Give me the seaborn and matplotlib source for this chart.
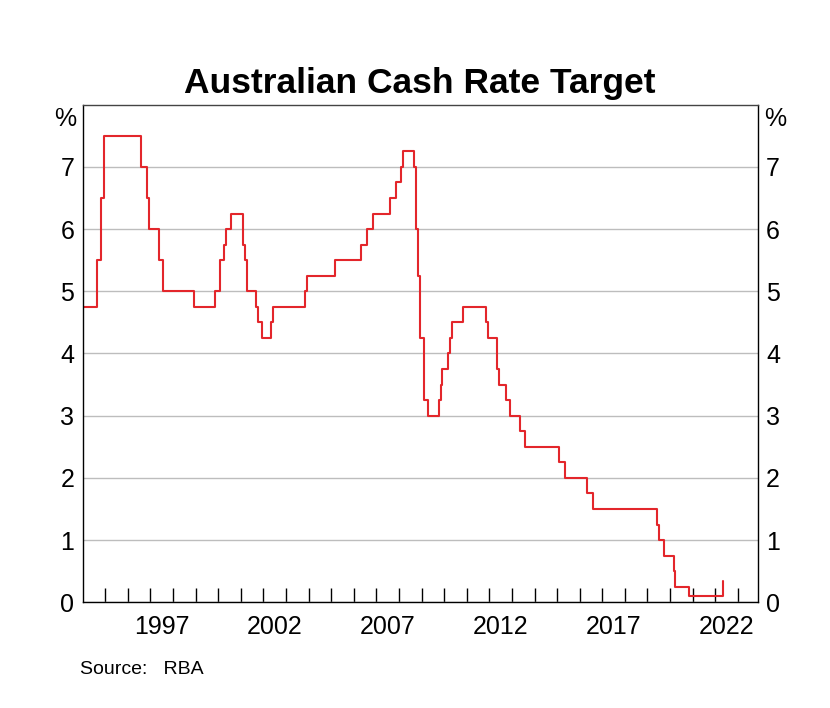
import pandas as pd
import numpy as np
import matplotlib
matplotlib.use("Agg")
import matplotlib.pyplot as plt
import seaborn as sns

# ==========================
# DATA (RBA cash rate target decisions)
# ==========================

change_dates = [
    "1994-01-01", "1994-08-17", "1994-10-24", "1994-12-14",
    "1996-07-31", "1996-11-06", "1996-12-11", "1997-05-23", "1997-07-30",
    "1998-12-02", "1999-11-03", "2000-02-02", "2000-04-05", "2000-05-03",
    "2000-08-02", "2001-02-07", "2001-03-07", "2001-04-04", "2001-09-05",
    "2001-10-03", "2001-12-05", "2002-05-08", "2002-06-05", "2003-11-05",
    "2003-12-03", "2005-03-02", "2006-05-03", "2006-08-02", "2006-11-08",
    "2007-08-08", "2007-11-07", "2008-02-06", "2008-03-05", "2008-09-03",
    "2008-10-08", "2008-11-05", "2008-12-03", "2009-02-04", "2009-04-08",
    "2009-10-07", "2009-11-04", "2009-12-02", "2010-03-03", "2010-04-07",
    "2010-05-05", "2010-11-03", "2011-11-02", "2011-12-07", "2012-05-02",
    "2012-06-06", "2012-10-03", "2012-12-05", "2013-05-08", "2013-08-07",
    "2015-02-04", "2015-05-06", "2016-05-04", "2016-08-03", "2019-06-05",
    "2019-07-03", "2019-10-02", "2020-03-04", "2020-03-20", "2020-11-04",
    "2022-05-04", "2022-05-10",
]

cash_rate = [
    4.75, 5.50, 6.50, 7.50,
    7.00, 6.50, 6.00, 5.50, 5.00,
    4.75, 5.00, 5.50, 5.75, 6.00,
    6.25, 5.75, 5.50, 5.00, 4.75,
    4.50, 4.25, 4.50, 4.75, 5.00,
    5.25, 5.50, 5.75, 6.00, 6.25,
    6.50, 6.75, 7.00, 7.25, 7.00,
    6.00, 5.25, 4.25, 3.25, 3.00,
    3.25, 3.50, 3.75, 4.00, 4.25,
    4.50, 4.75, 4.50, 4.25, 3.75,
    3.50, 3.25, 3.00, 2.75, 2.50,
    2.25, 2.00, 1.75, 1.50, 1.25,
    1.00, 0.75, 0.50, 0.25, 0.10,
    0.35, 0.35,
]

year_ticks = list(range(1995, 2024))
year_labels = ["1997", "2002", "2007", "2012", "2017", "2022"]
y_ticks = [0, 1, 2, 3, 4, 5, 6, 7]

# ==========================
# PREP
# ==========================

dates = pd.to_datetime(change_dates)
days_in_year = np.where(dates.is_leap_year, 366, 365)
df = pd.DataFrame({
    "year": dates.year + (dates.dayofyear - 1) / days_in_year,
    "rate": cash_rate,
})

# ==========================
# PLOT
# ==========================

sns.set_style("white")
plt.rcParams["font.family"] = ["Liberation Sans", "DejaVu Sans"]
plt.rcParams["text.color"] = "black"
plt.rcParams["xtick.color"] = "black"
plt.rcParams["ytick.color"] = "black"

W, H = 830, 708
fig = plt.figure(figsize=(W / 100, H / 100), dpi=100)
ax = fig.add_axes([82.7 / W, 1 - 602.3 / H, (757.7 - 82.7) / W, (602.3 - 104.7) / H])

sns.lineplot(
    data=df, x="year", y="rate", ax=ax,
    drawstyle="steps-post", color="#e3262b", linewidth=1.5,
)

ax.set_xlim(1994.0, 2023.88)
ax.set_ylim(0, 8)

ax.set_xticks(year_ticks)
ax.set_xticklabels([])
ax.set_xticks([int(y) + 0.5 for y in year_labels], minor=True)
ax.set_xticklabels(year_labels, minor=True)
ax.tick_params(axis="x", which="major", direction="in", length=10,
               width=1, color="black", bottom=True)
ax.tick_params(axis="x", which="minor", length=0, labelsize=18,
               labelcolor="black", pad=9)

ax.set_yticks(y_ticks)
ax.set_yticklabels([str(v) for v in y_ticks])
ax.tick_params(axis="y", length=0, labelsize=18, labelcolor="black", pad=6,
               labelleft=True, labelright=True)

ax.grid(axis="y", color="#bdbdbd", linewidth=1)
ax.grid(axis="x", visible=False)
for side in ["left", "right", "bottom", "top"]:
    ax.spines[side].set_visible(True)
    ax.spines[side].set_color("black")
    ax.spines[side].set_linewidth(1)
ax.spines["top"].set_color("#444444")

ax.set_xlabel("")
ax.set_ylabel("")

ax.text(-0.009, 7.77, "%", transform=ax.get_yaxis_transform(),
        ha="right", va="center", fontsize=18)
ax.text(1.009, 7.77, "%", transform=ax.get_yaxis_transform(),
        ha="left", va="center", fontsize=18)

fig.text(420 / W, 1 - 93 / H, "Australian Cash Rate Target",
         ha="center", va="baseline", fontsize=25.5, fontweight="bold")
fig.text(80 / W, 1 - 674 / H, "Source:   RBA",
         ha="left", va="baseline", fontsize=14)

plt.savefig("out.png", dpi=100)
